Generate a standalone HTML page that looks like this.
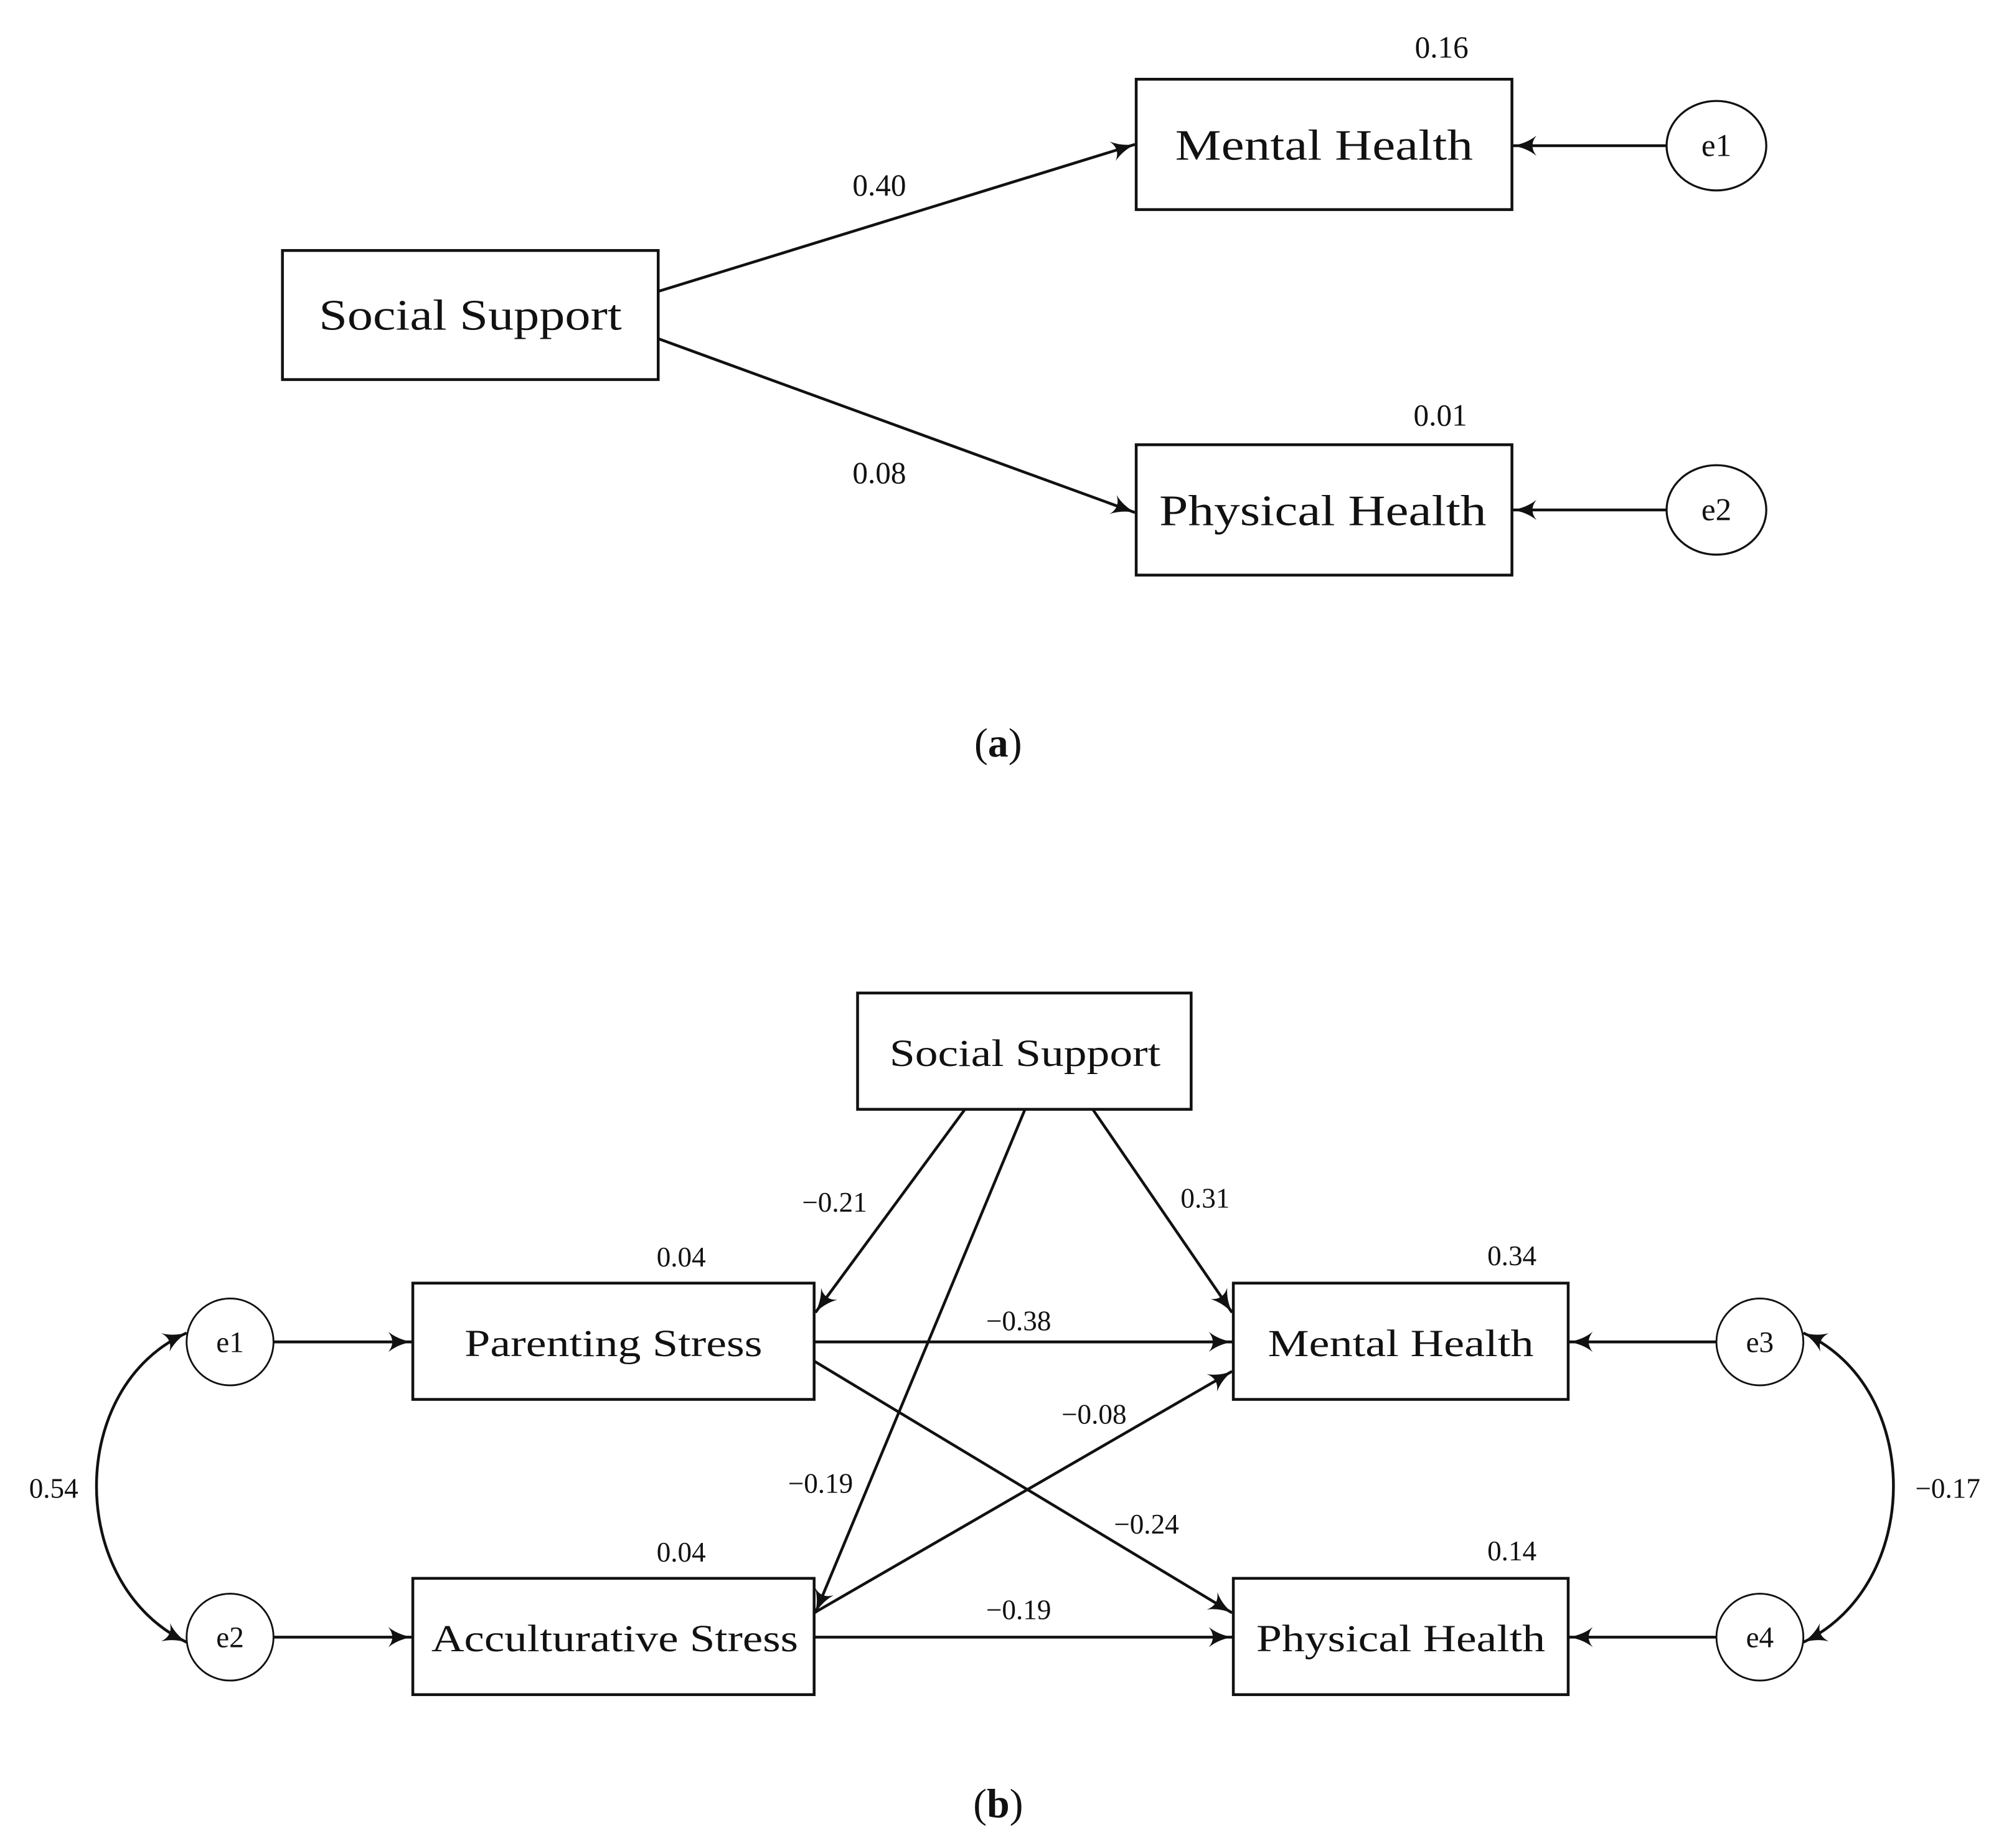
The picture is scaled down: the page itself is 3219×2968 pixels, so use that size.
<!DOCTYPE html>
<html><head><meta charset="utf-8"><style>
html,body{margin:0;padding:0;background:#fff;}
svg{display:block;}
text{font-family:"Liberation Serif",serif;fill:#111;}
</style></head><body>
<svg width="3219" height="2968" viewBox="0 0 1568 1446" preserveAspectRatio="none" xmlns="http://www.w3.org/2000/svg">
<defs>
<marker id="ar" viewBox="0 0 12 10" refX="11.5" refY="5" markerWidth="19" markerHeight="16" markerUnits="userSpaceOnUse" orient="auto-start-reverse">
<path d="M0,0 Q5,4 12,5 Q5,6 0,10 Q4,5 0,0Z" fill="#111"/>
</marker>
</defs>
<g stroke="#111" stroke-width="2.2" fill="none">
<rect x="221" y="196" width="294" height="101"/>
<rect x="889" y="62" width="294" height="102"/>
<rect x="889" y="348" width="294" height="102"/>
<ellipse cx="1343" cy="114" rx="39" ry="35" stroke-width="1.6"/>
<ellipse cx="1343" cy="399" rx="39" ry="35" stroke-width="1.6"/>
<line x1="1304" y1="114" x2="1184" y2="114" marker-end="url(#ar)"/>
<line x1="1304" y1="399" x2="1184" y2="399" marker-end="url(#ar)"/>
<line x1="515" y1="228" x2="888" y2="113" marker-end="url(#ar)"/>
<line x1="515" y1="265" x2="888" y2="401" marker-end="url(#ar)"/>
<rect x="671" y="777" width="261" height="91"/>
<rect x="323" y="1004" width="314" height="91"/>
<rect x="323" y="1235" width="314" height="91"/>
<rect x="965" y="1004" width="262" height="91"/>
<rect x="965" y="1235" width="262" height="91"/>
<circle cx="180" cy="1050" r="34" stroke-width="1.4"/>
<circle cx="180" cy="1281" r="34" stroke-width="1.4"/>
<circle cx="1377" cy="1050" r="34" stroke-width="1.4"/>
<circle cx="1377" cy="1281" r="34" stroke-width="1.4"/>
<line x1="214" y1="1050" x2="322" y2="1050" marker-end="url(#ar)"/>
<line x1="214" y1="1281" x2="322" y2="1281" marker-end="url(#ar)"/>
<line x1="1343" y1="1050" x2="1228" y2="1050" marker-end="url(#ar)"/>
<line x1="1343" y1="1281" x2="1228" y2="1281" marker-end="url(#ar)"/>
<line x1="755" y1="868" x2="638" y2="1027" marker-end="url(#ar)"/>
<line x1="802" y1="868" x2="638" y2="1262" marker-end="url(#ar)"/>
<line x1="855" y1="868" x2="964" y2="1027" marker-end="url(#ar)"/>
<line x1="637" y1="1050" x2="964" y2="1050" marker-end="url(#ar)"/>
<line x1="637" y1="1065" x2="964" y2="1262" marker-end="url(#ar)"/>
<line x1="637" y1="1262" x2="964" y2="1073" marker-end="url(#ar)"/>
<line x1="637" y1="1281" x2="964" y2="1281" marker-end="url(#ar)"/>
<path d="M146,1043 C52,1085 52,1240 146,1285" marker-start="url(#ar)" marker-end="url(#ar)"/>
<path d="M1411,1043 C1505,1085 1505,1240 1411,1285" marker-start="url(#ar)" marker-end="url(#ar)"/>
</g>
<g text-anchor="middle">
<text x="368" y="258" font-size="34" textLength="237" lengthAdjust="spacingAndGlyphs">Social Support</text>
<text x="1036" y="125" font-size="34" textLength="233" lengthAdjust="spacingAndGlyphs">Mental Health</text>
<text x="1035" y="411" font-size="34" textLength="256" lengthAdjust="spacingAndGlyphs">Physical Health</text>
<text x="1343" y="122" font-size="25">e1</text>
<text x="1343" y="407" font-size="25">e2</text>
<text x="1128" y="45" font-size="24">0.16</text>
<text x="688" y="153" font-size="24">0.40</text>
<text x="1127" y="333" font-size="24">0.01</text>
<text x="688" y="378" font-size="24">0.08</text>
<text x="781" y="592" font-size="32">(<tspan font-weight="bold">a</tspan>)</text>

<text x="802" y="834" font-size="30" textLength="212" lengthAdjust="spacingAndGlyphs">Social Support</text>
<text x="480" y="1061" font-size="30" textLength="233" lengthAdjust="spacingAndGlyphs">Parenting Stress</text>
<text x="481" y="1292" font-size="30" textLength="287" lengthAdjust="spacingAndGlyphs">Acculturative Stress</text>
<text x="1096" y="1061" font-size="30" textLength="208" lengthAdjust="spacingAndGlyphs">Mental Health</text>
<text x="1096" y="1292" font-size="30" textLength="226" lengthAdjust="spacingAndGlyphs">Physical Health</text>
<text x="180" y="1058" font-size="23">e1</text>
<text x="180" y="1289" font-size="23">e2</text>
<text x="1377" y="1058" font-size="23">e3</text>
<text x="1377" y="1289" font-size="23">e4</text>
<text x="653" y="948" font-size="22">−0.21</text>
<text x="943" y="945" font-size="22">0.31</text>
<text x="533" y="991" font-size="22">0.04</text>
<text x="1183" y="990" font-size="22">0.34</text>
<text x="797" y="1041" font-size="22">−0.38</text>
<text x="856" y="1114" font-size="22">−0.08</text>
<text x="42" y="1172" font-size="22">0.54</text>
<text x="642" y="1168" font-size="22">−0.19</text>
<text x="897" y="1200" font-size="22">−0.24</text>
<text x="1524" y="1172" font-size="22">−0.17</text>
<text x="533" y="1222" font-size="22">0.04</text>
<text x="1183" y="1221" font-size="22">0.14</text>
<text x="797" y="1267" font-size="22">−0.19</text>
<text x="781" y="1422" font-size="32">(<tspan font-weight="bold">b</tspan>)</text>
</g>
</svg>
</body></html>
